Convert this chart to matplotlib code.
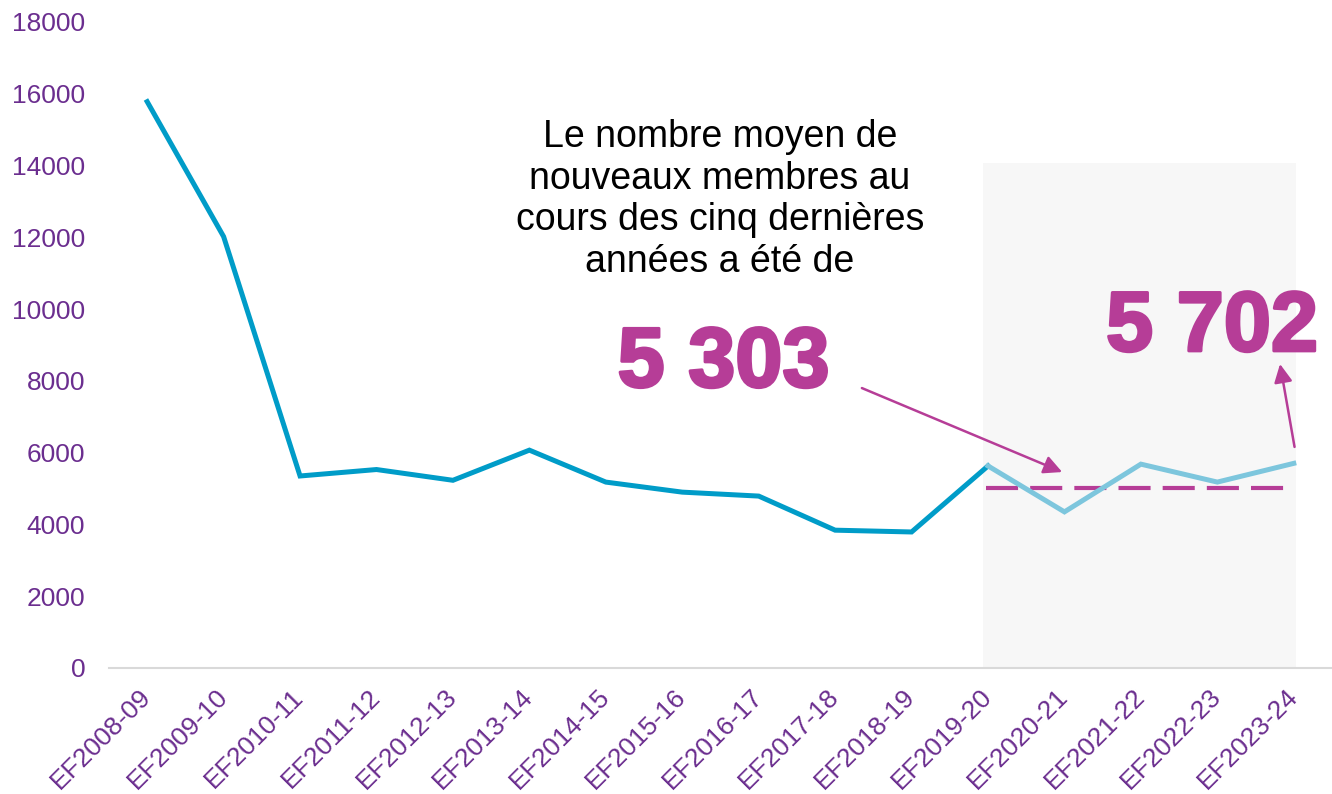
import matplotlib.pyplot as plt
import matplotlib.patheffects as pe
from matplotlib.patches import Rectangle

# data
years = ['EF2008-09', 'EF2009-10', 'EF2010-11', 'EF2011-12', 'EF2012-13',
         'EF2013-14', 'EF2014-15', 'EF2015-16', 'EF2016-17', 'EF2017-18',
         'EF2018-19', 'EF2019-20', 'EF2020-21', 'EF2021-22', 'EF2022-23',
         'EF2023-24']
new_members = [15780, 12020, 5350, 5530, 5230, 6070, 5180, 4900, 4790,
               3840, 3790, 5630, 4350, 5680, 5180, 5702]
recent_start = 11          # last five years start here
avg_level = 5010           # dashed line as drawn
avg_label = '5 303'
last_label = '5 702'
note = ('Le nombre moyen de\nnouveaux membres au\n'
        'cours des cinq dernières\nannées a été de')

dark_blue = '#009CC8'
light_blue = '#7DC6DD'
purple = '#B63D97'
tick_purple = '#6B2E8F'

plt.rcParams['font.family'] = ['Liberation Sans', 'DejaVu Sans']

fig = plt.figure(figsize=(13.32, 7.94), dpi=100)
ax = fig.add_axes([0.0818, 0.1587, 0.9182, 0.8136])

x = list(range(len(years)))

# shaded box behind the last five years
ax.add_patch(Rectangle((10.93, 0), 4.1, 14070, facecolor='#F7F7F7',
                       edgecolor='none', zorder=0))

ax.plot(x[:recent_start + 1], new_members[:recent_start + 1],
        color=dark_blue, lw=3.6, solid_joinstyle='miter', zorder=3)
ax.plot(x[recent_start:], new_members[recent_start:],
        color=light_blue, lw=3.6, solid_joinstyle='miter', zorder=3)

ax.plot([recent_start - 0.03, len(years) - 1], [avg_level, avg_level],
        color=purple, lw=3, dashes=(7.7, 2.9), zorder=2)

ax.text(7.49, 13050, note, ha='center', va='center', fontsize=27,
        linespacing=1.2, color='black')

big = dict(fontsize=61, fontweight='bold', color=purple, ha='center',
           va='center',
           path_effects=[pe.withStroke(linewidth=2.2, foreground=purple)])
ax.text(7.54, 8450, avg_label, **big)
ax.text(13.93, 9450, last_label, clip_on=False, **big)

arrow = dict(arrowstyle='-|>,head_length=1.1,head_width=0.55',
             color=purple, lw=1.8, shrinkA=0, shrinkB=0)
ax.annotate('', xy=(11.97, 5460), xytext=(9.35, 7800), arrowprops=arrow)
ax.annotate('', xy=(14.82, 8470), xytext=(15.01, 6160), arrowprops=arrow)

ax.set_xlim(-0.5, len(years) - 0.5)
ax.set_ylim(0, 18000)
ax.set_yticks(range(0, 18001, 2000))
ax.set_xticks(x)
ax.set_xticklabels(years, rotation=45, ha='right', va='center',
                   rotation_mode='anchor')
ax.tick_params(axis='both', length=0, labelsize=19, labelcolor=tick_purple)
ax.tick_params(axis='y', pad=17)
ax.tick_params(axis='x', pad=18)

for side in ['top', 'right', 'left']:
    ax.spines[side].set_visible(False)
ax.spines['bottom'].set_color('#D9D9D9')
ax.spines['bottom'].set_linewidth(1.5)

fig.savefig('out.png', dpi=100)
